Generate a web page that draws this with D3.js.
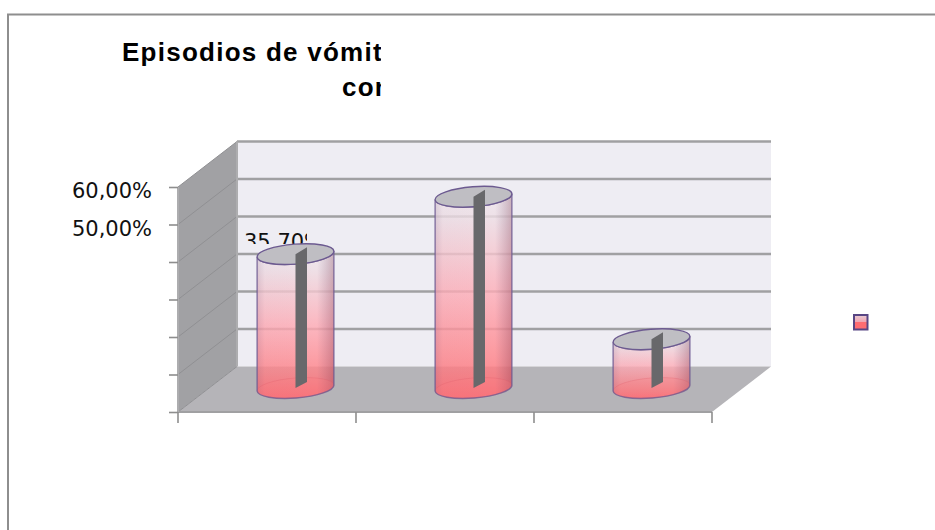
<!DOCTYPE html>
<html>
<head>
<meta charset="utf-8">
<script src="https://cdn.jsdelivr.net/npm/d3@7/dist/d3.min.js"></script>
<style>
html,body{margin:0;padding:0;background:#fff;overflow:hidden}
svg{display:block}
</style>
</head>
<body>
<svg id="chart" width="935" height="530"></svg>
<script>
// Chart content
const titleLines = ["Episodios de vómitos", "con"];
const categories = ["1", "2", "3"];
const values = [35.7, 51.0, 13.0];
const valueTicks = [0, 10, 20, 30, 40, 50, 60];
const shownTickLabels = {60: "60,00%", 50: "50,00%"};
const valueLabels = ["35,70%"];
const legendSeries = ["Serie1"];

// Plot geometry
const left = 178, right = 712, floorY = 412, topY = 187;
const depthX = 59, depthY = -45.5;
const barRx = 38.5, barRy = 10, tilt = -4.5;
const barDepthX = 28.5, barBaseY = 388;

const svg = d3.select("#chart");
const y = d3.scaleLinear().domain([0, 60]).range([floorY, topY]);
const x = d3.scaleBand().domain(categories).range([left, right]);
const barY = d3.scaleLinear().domain([0, 60])
  .range([barBaseY, barBaseY - (floorY - topY)]);

const defs = svg.append("defs");
const body = defs.append("linearGradient").attr("id", "bodyFill")
  .attr("x1", 0).attr("y1", 0).attr("x2", 0).attr("y2", 1);
[[0, "#efe8ee", 0.82], [0.12, "#eedde4", 0.8], [0.5, "#ffaab4", 0.8], [0.82, "#ff8288", 0.82], [1, "#ff6a72", 0.9]]
  .forEach(([o, c, a]) => body.append("stop").attr("offset", o).attr("stop-color", c).attr("stop-opacity", a));
const side = defs.append("linearGradient").attr("id", "bodyShade");
[[0, "#6a4a70", 0.16], [0.1, "#6a4a70", 0.02], [0.78, "#6a4a70", 0], [1, "#702a40", 0.3]]
  .forEach(([o, c, a]) => side.append("stop").attr("offset", o).attr("stop-color", c).attr("stop-opacity", a));
const swatch = defs.append("linearGradient").attr("id", "swatchFill")
  .attr("x1", 0).attr("y1", 0).attr("x2", 0).attr("y2", 1);
[[0, "#e8ccd4"], [0.45, "#f0a8b4"], [0.5, "#ff6d72"], [1, "#ff6d72"]]
  .forEach(([o, c]) => swatch.append("stop").attr("offset", o).attr("stop-color", c));
defs.append("clipPath").attr("id", "titleClip").append("rect")
  .attr("x", 0).attr("y", 20).attr("width", 381).attr("height", 90);
defs.append("clipPath").attr("id", "labelClip").append("rect")
  .attr("x", 230).attr("y", 225).attr("width", 77).attr("height", 19);

// Outer frame, open towards the right and bottom edges
svg.append("path").attr("d", "M8,530V14.5H935").attr("fill", "none")
  .attr("stroke", "#8e8e8e").attr("stroke-width", 2);

// Title
const title = svg.append("g").attr("clip-path", "url(#titleClip)")
  .attr("font-family", "Liberation Sans").attr("font-weight", "bold")
  .attr("font-size", 26).attr("letter-spacing", 1.25).attr("fill", "#000");
title.append("text").attr("x", 122).attr("y", 61).text(titleLines[0]);
title.append("text").attr("x", 342).attr("y", 96).text(titleLines[1]);

// Walls and floor
const wallTop = y(60) + depthY, wallBottom = y(0) + depthY;
svg.append("rect").attr("x", left + depthX).attr("y", wallTop)
  .attr("width", right - left).attr("height", wallBottom - wallTop).attr("fill", "#eeedf3");
svg.append("path").attr("fill", "#a1a1a4")
  .attr("d", `M${left},${y(0)}V${y(60)}L${left + depthX},${wallTop}V${wallBottom}Z`);
svg.append("path").attr("fill", "#b5b4b8")
  .attr("d", `M${left},${y(0)}L${left + depthX},${wallBottom}H${right + depthX}L${right},${y(0)}Z`);

// Gridlines across the back and side walls
svg.append("g").selectAll("line").data(valueTicks.slice(1)).join("line")
  .attr("x1", left + depthX).attr("x2", right + depthX)
  .attr("y1", d => y(d) + depthY).attr("y2", d => y(d) + depthY)
  .attr("stroke", "#a0a0a2").attr("stroke-width", 2.4);
svg.append("g").selectAll("line").data(valueTicks).join("line")
  .attr("x1", left).attr("x2", left + depthX)
  .attr("y1", d => y(d)).attr("y2", d => y(d) + depthY)
  .attr("stroke", "#909093").attr("stroke-width", 1);
svg.append("line").attr("x1", left + depthX).attr("x2", left + depthX)
  .attr("y1", wallTop).attr("y2", wallBottom).attr("stroke", "#adadaf").attr("stroke-width", 2);
svg.append("line").attr("x1", left).attr("x2", right)
  .attr("y1", y(0)).attr("y2", y(0)).attr("stroke", "#a0a0a2").attr("stroke-width", 2);
svg.append("line").attr("x1", left).attr("x2", left)
  .attr("y1", y(0)).attr("y2", y(60)).attr("stroke", "#adadaf").attr("stroke-width", 2);

// Value axis
const yAxis = svg.append("g").attr("transform", `translate(${left},0)`)
  .call(d3.axisLeft(y).tickValues(valueTicks).tickSize(9).tickPadding(17)
    .tickFormat(d => shownTickLabels[d] || ""));
yAxis.select(".domain").remove();
yAxis.selectAll("line").attr("stroke", "#8e8e8e").attr("stroke-width", 1.6);
yAxis.selectAll("text").attr("font-family", "DejaVu Sans").attr("font-size", 21)
  .attr("fill", "#111").attr("dy", "0.5em");

// Category axis: tick marks only
const catTicks = categories.map(c => x(c)).concat([right]);
svg.append("g").selectAll("line").data(catTicks).join("line")
  .attr("x1", d => d).attr("x2", d => d)
  .attr("y1", y(0)).attr("y2", y(0) + 11)
  .attr("stroke", "#8e8e8e").attr("stroke-width", 1.6);

// Data label, partly hidden behind its cylinder
svg.append("g").attr("clip-path", "url(#labelClip)").selectAll("text")
  .data(valueLabels).join("text")
  .attr("x", 244).attr("y", 249)
  .attr("font-family", "DejaVu Sans").attr("font-size", 21).attr("fill", "#111")
  .text(d => d);

// Cylinders
const rad = tilt * Math.PI / 180;
const ex = barRx * Math.cos(rad), ey = barRx * Math.sin(rad);
const bars = svg.append("g").selectAll("g").data(values).join("g")
  .attr("transform", (d, i) => `translate(${x(categories[i]) + x.bandwidth() / 2 + barDepthX},0)`);
const hull = d => {
  const t = barY(d), b = barY(0);
  return `M${-ex},${t - ey}V${b - ey}A${barRx},${barRy} ${tilt} 0 0 ${ex},${b + ey}` +
         `V${t + ey}A${barRx},${barRy} ${tilt} 0 1 ${-ex},${t - ey}Z`;
};
bars.append("path").attr("d", hull).attr("fill", "url(#bodyFill)");
bars.append("path").attr("d", hull).attr("fill", "url(#bodyShade)");
// Faint rim of the base seen through the body
bars.append("ellipse").attr("rx", barRx).attr("ry", barRy)
  .attr("transform", `translate(0,${barBaseY}) rotate(${tilt})`)
  .attr("fill", "#ff7d84").attr("fill-opacity", 0.2)
  .attr("stroke", "#e0606e").attr("stroke-width", 0.8).attr("stroke-opacity", 0.35);
bars.append("path").attr("d", hull).attr("fill", "none")
  .attr("stroke", "#6c5a90").attr("stroke-width", 1.5).attr("stroke-opacity", 0.75);
// Top cap
bars.append("ellipse").attr("rx", barRx).attr("ry", barRy)
  .attr("transform", d => `translate(0,${barY(d)}) rotate(${tilt})`)
  .attr("fill", "#bfbec3").attr("stroke", "#6c5a90").attr("stroke-width", 1.4);
// Inner dark blade running from the cap down to the base
bars.append("path").attr("fill", "#68686b")
  .attr("d", d => `M0,${barY(d)}L11.5,${barY(d) - 7}V${barY(0) - 6}L0,${barY(0)}Z`);

// Legend key
svg.append("g").selectAll("rect").data(legendSeries).join("rect")
  .attr("x", 854).attr("y", 315).attr("width", 13.5).attr("height", 14.5)
  .attr("fill", "url(#swatchFill)").attr("stroke", "#584684").attr("stroke-width", 2);
</script>
</body>
</html>
